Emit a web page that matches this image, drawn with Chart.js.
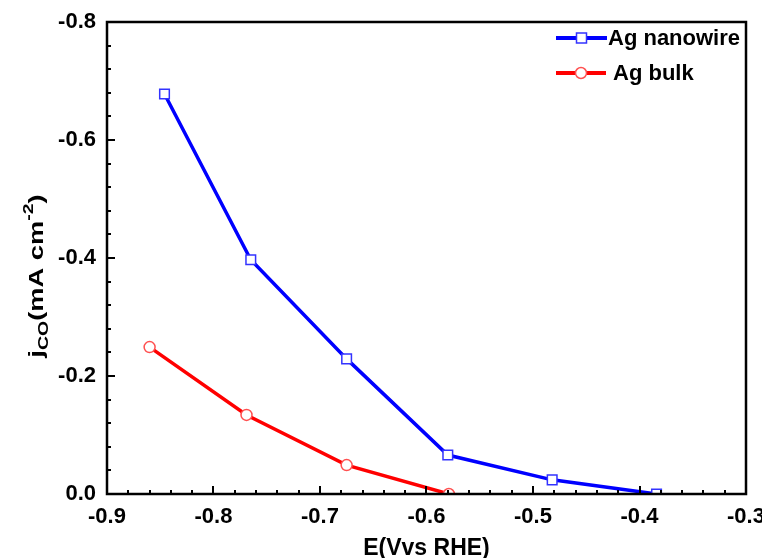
<!DOCTYPE html>
<html>
<head>
<meta charset="utf-8">
<script src="https://cdn.jsdelivr.net/npm/chart.js@4.4.0/dist/chart.umd.min.js"></script>
<style>
  html, body { margin: 0; padding: 0; background: #fff; }
  #wrap { width: 762px; height: 558px; }
</style>
</head>
<body>
<div id="wrap"><canvas id="cv" width="762" height="558"></canvas></div>
<script>
// potentials (V vs RHE) and CO partial current density (mA cm-2)
const wireE = [-0.846, -0.765, -0.675, -0.580, -0.482, -0.384];
const wireJ = [-0.678, -0.397, -0.229, -0.066, -0.024, 0.0];
const bulkE = [-0.860, -0.769, -0.675, -0.579];
const bulkJ = [-0.249, -0.134, -0.049, 0.0];
const xTicks = [-0.9, -0.8, -0.7, -0.6, -0.5, -0.4, -0.3];
const yTicks = [-0.8, -0.6, -0.4, -0.2, 0.0];

function toPoints(xs, ys) {
    var pts = [];
    for (let i = 0; i < xs.length; i++) {
        pts.push({ x: xs[i], y: ys[i] });
    }
    return pts;
}

const FONT = 'Liberation Sans, Arial, sans-serif';

// frame, inside ticks, axis title and legend
const decor = {
    id: 'decor',
    afterDraw(chart) {
        const ctx = chart.ctx;
        const a = chart.chartArea;
        const xs = chart.scales.x, ys = chart.scales.y;
        ctx.save();
        ctx.strokeStyle = '#000';
        ctx.lineWidth = 2.5;
        ctx.strokeRect(a.left, a.top, a.right - a.left, a.bottom - a.top);

        // x ticks, every 0.02, major every 0.1
        ctx.lineWidth = 2;
        for (let k = 0; k <= 30; k++) {
            const v = -0.9 + k * 0.02;
            const px = Math.round(xs.getPixelForValue(v));
            const len = (k % 5 === 0) ? 8 : 4;
            ctx.beginPath();
            ctx.moveTo(px, a.bottom);
            ctx.lineTo(px, a.bottom - len);
            ctx.stroke();
        }
        // y ticks, every 0.04, major every 0.2
        for (let k = 0; k <= 20; k++) {
            const v = -k * 0.04;
            const py = Math.round(ys.getPixelForValue(v));
            const len = (k % 5 === 0) ? 8 : 4;
            ctx.beginPath();
            ctx.moveTo(a.left, py);
            ctx.lineTo(a.left + len, py);
            ctx.stroke();
        }

        // y title: j_CO(mA cm^-2), a bit stretched along the text like the original
        ctx.fillStyle = '#000';
        ctx.translate(43, 276);
        ctx.rotate(-Math.PI / 2);
        ctx.scale(1.3, 1);
        ctx.textBaseline = 'alphabetic';
        const big = 'bold 21px ' + FONT, small = 'bold 15px ' + FONT;
        const parts = [
            ['j', big, 0], ['CO', small, 5], ['(mA cm', big, 0], ['-2', small, -10], [')', big, 0]
        ];
        let total = 0;
        parts.forEach(p => { ctx.font = p[1]; total += ctx.measureText(p[0]).width; });
        let cx = -total / 2;
        parts.forEach(p => {
            ctx.font = p[1];
            ctx.fillText(p[0], cx, p[2]);
            cx += ctx.measureText(p[0]).width;
        });
        ctx.restore();

        // legend
        ctx.save();
        const items = [
            { ds: chart.data.datasets[0], y: 38, x0: 556, x1: 607, tx: 608 },
            { ds: chart.data.datasets[1], y: 73, x0: 556, x1: 606, tx: 613 }
        ];
        items.forEach(it => {
            ctx.strokeStyle = it.ds.borderColor;
            ctx.lineWidth = 4;
            ctx.beginPath();
            ctx.moveTo(it.x0, it.y);
            ctx.lineTo(it.x1, it.y);
            ctx.stroke();
            const mx = (it.x0 + it.x1) / 2;
            ctx.fillStyle = '#fff';
            ctx.strokeStyle = it.ds.pointBorderColor;
            ctx.lineWidth = 1.5;
            ctx.beginPath();
            if (it.ds.pointStyle === 'rect') {
                ctx.rect(mx - 5, it.y - 5, 10, 10);
            } else {
                ctx.arc(mx, it.y, 5.5, 0, Math.PI * 2);
            }
            ctx.fill();
            ctx.stroke();
            ctx.fillStyle = '#000';
            ctx.font = 'bold 22px ' + FONT;
            ctx.textBaseline = 'middle';
            ctx.fillText(it.ds.label, it.tx, it.y + 1);
        });
        ctx.restore();
    }
};

function makeChart() {
    const ctx = document.getElementById('cv').getContext('2d');
    window.myChart = new Chart(ctx, {
        type: 'line',
        data: {
            datasets: [{
                label: 'Ag nanowire',
                data: toPoints(wireE, wireJ),
                borderColor: '#0000ff',
                borderWidth: 3.5,
                pointStyle: 'rect',
                pointRadius: 6.8,
                pointBorderWidth: 1.5,
                pointBorderColor: '#3333ff',
                pointBackgroundColor: '#fff'
            }, {
                label: 'Ag bulk',
                data: toPoints(bulkE, bulkJ),
                borderColor: '#ff0000',
                borderWidth: 3.5,
                pointStyle: 'circle',
                pointRadius: 5.5,
                pointBorderWidth: 1.5,
                pointBorderColor: '#ff5050',
                pointBackgroundColor: '#fff'
            }]
        },
        options: {
            responsive: false,
            animation: false,
            layout: { padding: { top: 22, right: 16, left: 0, bottom: 0 } },
            plugins: {
                legend: { display: false },
                tooltip: { enabled: false }
            },
            scales: {
                x: {
                    type: 'linear',
                    min: -0.9,
                    max: -0.3,
                    afterBuildTicks(scale) {
                        scale.ticks = xTicks.map(v => ({ value: v }));
                    },
                    afterFit(scale) {
                        scale.height = 64;
                        scale.paddingLeft = 0;
                        scale.paddingRight = 0;
                    },
                    ticks: {
                        color: '#000',
                        font: { family: FONT, size: 22, weight: 'bold' },
                        padding: 10,
                        maxRotation: 0,
                        callback(v) { return v.toFixed(1); }
                    },
                    grid: { display: false, drawTicks: false },
                    border: { display: false },
                    title: {
                        display: true,
                        text: 'E(Vvs RHE)',
                        color: '#000',
                        font: { family: FONT, size: 23, weight: 'bold' },
                        padding: { top: 0, bottom: -4 }
                    }
                },
                y: {
                    type: 'linear',
                    reverse: true,
                    min: -0.8,
                    max: 0,
                    afterBuildTicks(scale) {
                        scale.ticks = yTicks.map(v => ({ value: v }));
                    },
                    afterFit(scale) {
                        scale.width = 107;
                        scale.paddingTop = 0;
                        scale.paddingBottom = 0;
                    },
                    ticks: {
                        color: '#000',
                        font: { family: FONT, size: 22, weight: 'bold' },
                        padding: 11,
                        callback(v) { return Math.abs(v) < 1e-9 ? '0.0' : v.toFixed(1); }
                    },
                    grid: { display: false, drawTicks: false },
                    border: { display: false }
                }
            }
        },
        plugins: [decor]
    });
}

makeChart();
</script>
</body>
</html>
